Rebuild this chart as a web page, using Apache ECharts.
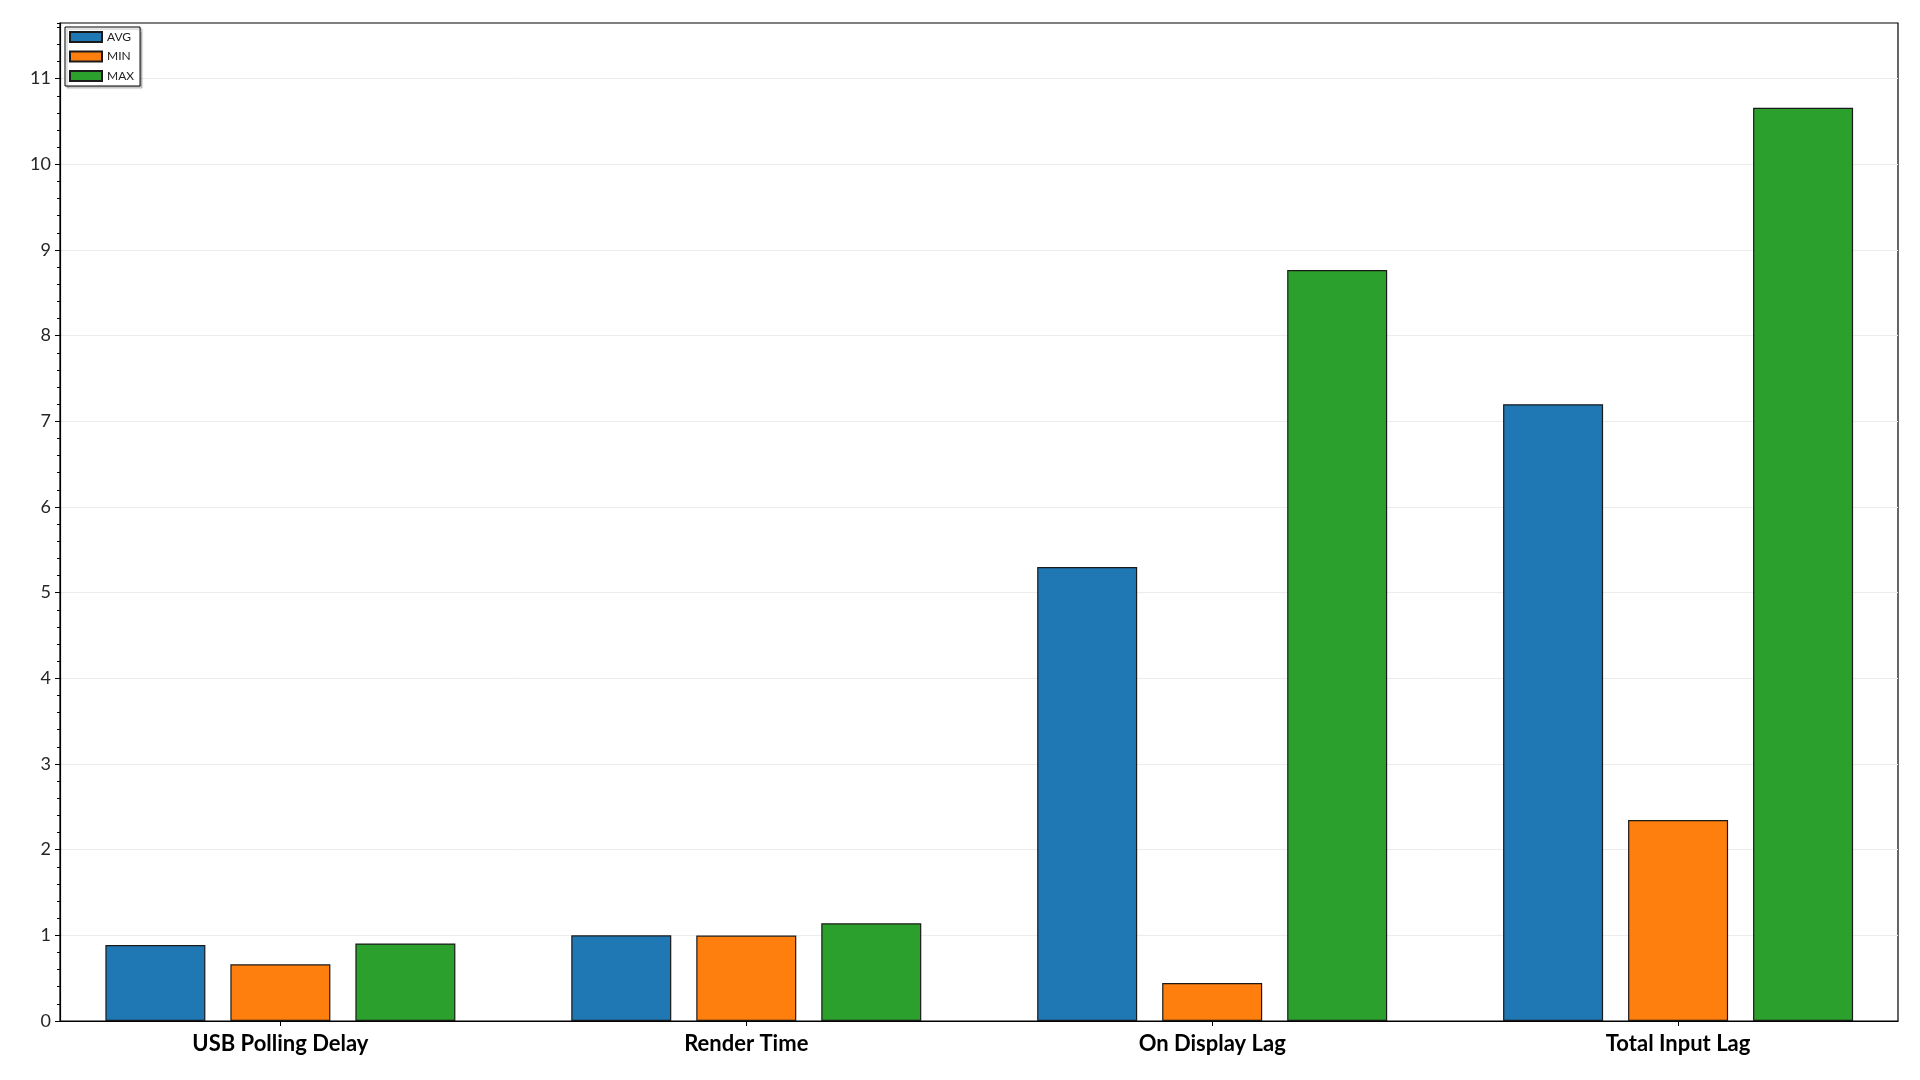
<!DOCTYPE html>
<html>
<head>
<meta charset="utf-8">
<script src="https://cdn.jsdelivr.net/npm/echarts@6/dist/echarts.min.js"></script>
<style>
html,body{margin:0;padding:0;background:#fff;}
#chart{width:1920px;height:1080px;}
</style>
</head>
<body>
<div id="chart"></div>
<script>
const categories = ['USB Polling Delay', 'Render Time', 'On Display Lag', 'Total Input Lag'];
const seriesNames = ['AVG', 'MIN', 'MAX'];
const avgValues = [0.887, 1.0, 5.30, 7.20];
const minValues = [0.662, 0.997, 0.444, 2.346];
const maxValues = [0.905, 1.14, 8.767, 10.66];
const colors = ['#1f77b4', '#ff7f0e', '#2ca02c'];

const allValues = [avgValues, minValues, maxValues];
const catIdx = categories.map((c, i) => i);

const chart = echarts.init(document.getElementById('chart'));
const FONT = 'Lato, "Open Sans", sans-serif';

const series = allValues.map((vals, s) => ({
  name: seriesNames[s],
  type: 'bar',
  xAxisIndex: 0,
  yAxisIndex: 0,
  barWidth: 100,
  barGap: '25%',
  data: vals.map((v, i) => [catIdx[i], v]),
  itemStyle: { color: colors[s], borderColor: '#1a1a1a', borderWidth: 1.2 },
  emphasis: { disabled: true }
}));

chart.setOption({
  animation: false,
  backgroundColor: '#fff',
  grid: { left: 60, right: 22, top: 23, bottom: 59, show: true, borderColor: '#000', borderWidth: 1.2, backgroundColor: 'transparent' },
  legend: {
    orient: 'vertical',
    left: 65,
    top: 27,
    padding: [4, 6, 4, 4],
    itemWidth: 32,
    itemHeight: 10,
    itemGap: 7.5,
    icon: 'rect',
    backgroundColor: '#fff',
    borderColor: '#000',
    borderWidth: 1,
    borderRadius: 0,
    shadowColor: 'rgba(0,0,0,0.25)',
    shadowOffsetX: 2,
    shadowOffsetY: 2,
    shadowBlur: 1,
    textStyle: { fontFamily: FONT, fontSize: 12, color: '#222' },
    data: seriesNames
  },
  xAxis: [{
    type: 'value',
    min: -0.473,
    max: 3.472,
    splitLine: { show: false },
    axisLine: { show: true, onZero: false, lineStyle: { color: '#000', width: 1.2 } },
    axisTick: { show: true, customValues: catIdx, length: 5, lineStyle: { color: '#000' } },
    axisLabel: {
      customValues: catIdx,
      formatter: v => categories[Math.round(v)],
      fontFamily: FONT, fontWeight: 'bold', fontSize: 22, color: '#000', margin: 12
    }
  }],
  yAxis: [{
    type: 'value',
    min: 0,
    max: 11.65,
    interval: 1,
    axisLine: { show: true, onZero: false, lineStyle: { color: '#000', width: 1.2 } },
    axisTick: { show: true, length: 5, lineStyle: { color: '#000' } },
    axisLabel: { showMaxLabel: false, fontFamily: FONT, fontSize: 18, color: '#262626', margin: 9 },
    splitLine: { show: true, showMaxLine: false, lineStyle: { color: '#ececec', width: 1 } }
  }, {
    type: 'value',
    position: 'left',
    min: 0,
    max: 11.65,
    interval: 0.2,
    axisLine: { show: false, onZero: false },
    axisTick: { show: true, length: 3, lineStyle: { color: '#000' } },
    axisLabel: { show: false },
    splitLine: { show: false }
  }],
  series: series
});
</script>
</body>
</html>
